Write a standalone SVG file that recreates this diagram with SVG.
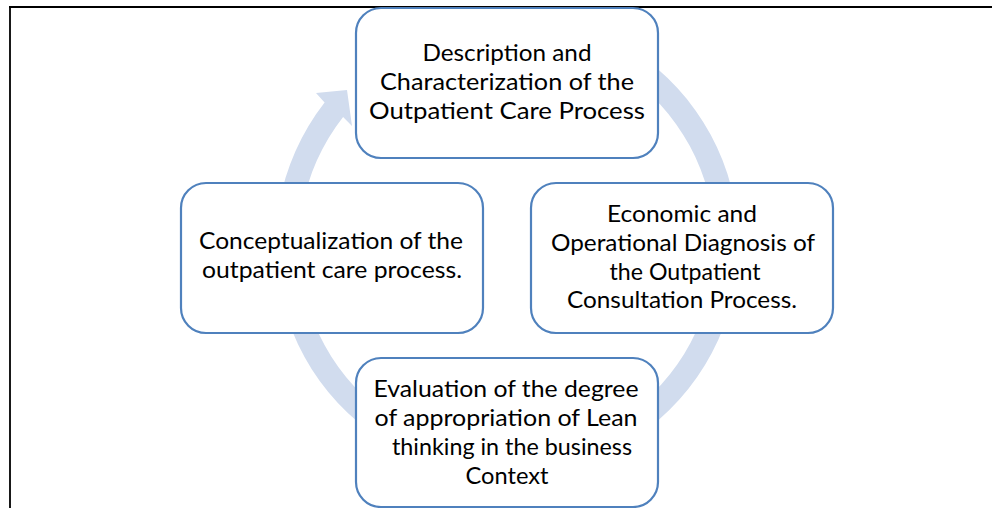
<svg xmlns="http://www.w3.org/2000/svg" width="992" height="508" viewBox="0 0 992 508">
  <style>
    .frame { stroke: #000; stroke-width: 1.8; fill: none; }
    .ring { fill: #d1dcee; stroke: none; }
    .box { fill: #fff; stroke: #4f81bd; stroke-width: 2.2; }
    .label { font-family: "Lato", "Liberation Sans", sans-serif; font-size: 24px; fill: #000; text-anchor: middle; }
  </style>
  <rect width="992" height="508" fill="#fff"/>

  <!-- outer frame (top and left edges) -->
  <path class="frame" d="M9 7 H992 M10 7 V508"/>

  <!-- continuous cycle arrow running clockwise behind the nodes -->
  <g id="connectors">
    <path class="ring" d="M391.25 44.5 A231.5 231.5 0 1 1 324.6 102.5 L316 93 L347 90 L352 126 L343.1 116.9 A208 208 0 1 0 403 64.9 Z"/>
  </g>

  <g id="node-description">
    <rect class="box" x="356" y="8" width="302" height="150" rx="25"/>
    <text class="label" x="507" y="61" textLength="169" lengthAdjust="spacingAndGlyphs">Description and</text>
    <text class="label" x="507" y="90" textLength="254" lengthAdjust="spacingAndGlyphs">Characterization of the</text>
    <text class="label" x="507" y="119" textLength="276" lengthAdjust="spacingAndGlyphs">Outpatient Care Process</text>
  </g>

  <g id="node-diagnosis">
    <rect class="box" x="531" y="183" width="302" height="150" rx="25"/>
    <text class="label" x="682" y="222" textLength="150" lengthAdjust="spacingAndGlyphs">Economic and</text>
    <text class="label" x="683" y="251" textLength="264" lengthAdjust="spacingAndGlyphs">Operational Diagnosis of</text>
    <text class="label" x="685" y="280" textLength="151" lengthAdjust="spacingAndGlyphs">the Outpatient</text>
    <text class="label" x="682" y="308" textLength="230" lengthAdjust="spacingAndGlyphs">Consultation Process.</text>
  </g>

  <g id="node-evaluation">
    <rect class="box" x="356" y="358" width="302" height="149" rx="25"/>
    <text class="label" x="506" y="397" textLength="265" lengthAdjust="spacingAndGlyphs">Evaluation of the degree</text>
    <text class="label" x="506" y="426" textLength="263" lengthAdjust="spacingAndGlyphs">of appropriation of Lean</text>
    <text class="label" x="512" y="455" textLength="240" lengthAdjust="spacingAndGlyphs">thinking in the business</text>
    <text class="label" x="507" y="484" textLength="83" lengthAdjust="spacingAndGlyphs">Context</text>
  </g>

  <g id="node-conceptualization">
    <rect class="box" x="181" y="183" width="302" height="150" rx="25"/>
    <text class="label" x="331" y="249" textLength="264" lengthAdjust="spacingAndGlyphs">Conceptualization of the</text>
    <text class="label" x="332" y="278" textLength="260" lengthAdjust="spacingAndGlyphs">outpatient care process.</text>
  </g>
</svg>
